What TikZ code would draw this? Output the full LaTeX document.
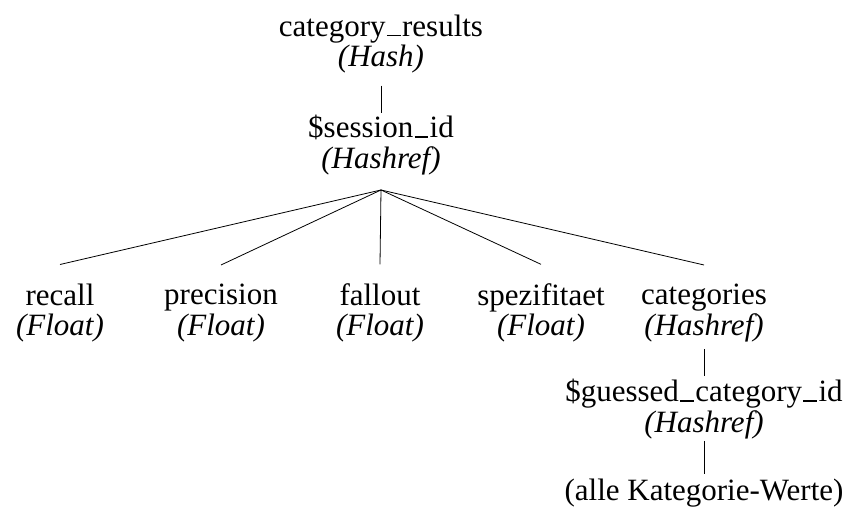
\documentclass[tikz,border=0pt]{standalone}
\usepackage{fontspec}
\setmainfont{Liberation Serif}
\newcommand{\us}{\kern0.04em\rule{0.45em}{0.04em}\kern0.04em}
\tikzset{
  tnode/.style={align=center, inner sep=6pt, font=\fontsize{31}{30.5}\selectfont},
  edge/.style={draw=black, line width=0.8pt}
}
\begin{document}
\begin{tikzpicture}[x=1pt,y=-1pt]
\useasboundingbox (0,0) rectangle (847,522);
\node[tnode] (root) at (381,44) {category\us results\\\textit{(Hash)}};
\node[tnode] (sess) at (381,145) {\$session\us id\\\textit{(Hashref)}};
\node[tnode] (recall) at (60,313) {recall\\\textit{(Float)}};
\node[tnode] (prec) at (221,313) {precision\\\textit{(Float)}};
\node[tnode] (fall) at (380,313) {fallout\\\textit{(Float)}};
\node[tnode] (spez) at (541,313) {spezifitaet\\\textit{(Float)}};
\node[tnode] (cats) at (704,313) {categories\\\textit{(Hashref)}};
\node[tnode] (guess) at (704,409) {\$guessed\us category\us id\\\textit{(Hashref)}};
\node[tnode] (alle) at (704,493) {(alle Kategorie-Werte)};
\draw[edge] ([yshift=-6pt]root.south) -- ([yshift=-4pt]sess.north);
\foreach \c in {recall,prec,fall,spez,cats}
  \draw[edge] ([yshift=-9pt]sess.south) -- ([yshift=13pt]\c.north);
\draw[edge] ([yshift=-1pt]cats.south) -- ([yshift=-3pt]guess.north);
\draw[edge] ([yshift=4pt]guess.south) -- ([yshift=-1pt]alle.north);
\end{tikzpicture}
\end{document}
